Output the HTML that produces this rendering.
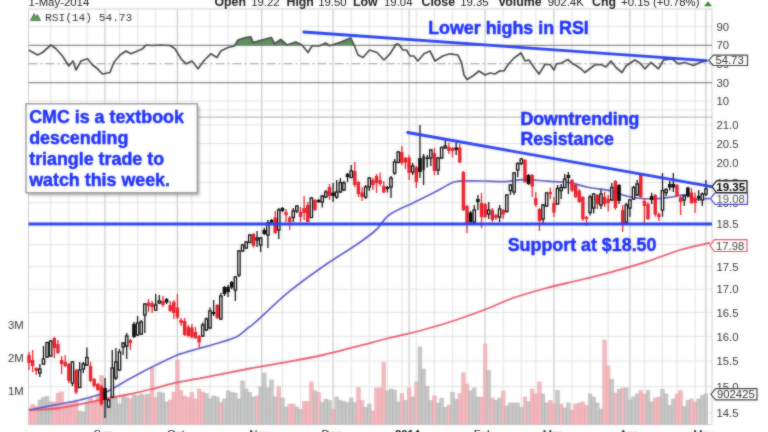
<!DOCTYPE html>
<html><head><meta charset="utf-8"><title>CMC chart</title>
<style>
html,body{margin:0;padding:0;background:#fff;overflow:hidden}
body{width:768px;height:432px;font-family:"Liberation Sans",sans-serif}
svg{display:block;filter:blur(0.7px)}
</style></head><body>
<svg width="768" height="432" viewBox="0 0 768 432">
<defs><clipPath id="cp"><rect x="28.5" y="0" width="683.5" height="424.5"/></clipPath>
<filter id="sh" x="-5%" y="-5%" width="115%" height="115%"><feGaussianBlur stdDeviation="1.2"/></filter>
<filter id="bl" color-interpolation-filters="sRGB" x="0" y="0" width="100%" height="100%" filterUnits="userSpaceOnUse"><feGaussianBlur stdDeviation="1.0"/></filter></defs>
<rect width="768" height="432" fill="#fff"/>
<g id="c">
<path d="M50.7 9.0V424.5M68.8 9.0V424.5M86.9 9.0V424.5M119.5 9.0V424.5M137.6 9.0V424.5M155.7 9.0V424.5M191.9 9.0V424.5M210.0 9.0V424.5M228.1 9.0V424.5M246.2 9.0V424.5M282.4 9.0V424.5M300.5 9.0V424.5M318.6 9.0V424.5M351.2 9.0V424.5M369.3 9.0V424.5M387.4 9.0V424.5M401.9 9.0V424.5M416.3 9.0V424.5M434.4 9.0V424.5M452.5 9.0V424.5M467.0 9.0V424.5M503.2 9.0V424.5M521.3 9.0V424.5M535.8 9.0V424.5M572.0 9.0V424.5M590.1 9.0V424.5M608.2 9.0V424.5M644.4 9.0V424.5M662.5 9.0V424.5M677.0 9.0V424.5M695.1 9.0V424.5" stroke="#e4e4e4" stroke-width="1" fill="none"/>
<path d="M105.0 9.0V424.5M177.4 9.0V424.5M261.7 9.0V424.5M333.1 9.0V424.5M409.1 9.0V424.5M485.1 9.0V424.5M553.9 9.0V424.5M629.9 9.0V424.5M705.9 9.0V424.5" stroke="#cacaca" stroke-width="1.2" fill="none"/>
<path d="M28.5 26.5H712.0M28.5 101.0H712.0M28.5 110.0H712.0M28.5 413.0H712.0M28.5 386.6H712.0M28.5 361.1H712.0M28.5 336.4H712.0M28.5 312.4H712.0M28.5 289.2H712.0M28.5 266.6H712.0M28.5 244.7H712.0M28.5 223.4H712.0M28.5 202.7H712.0M28.5 182.5H712.0M28.5 162.8H712.0M28.5 143.5H712.0M28.5 124.8H712.0" stroke="#e4e4e4" stroke-width="1" fill="none"/>
<path d="M28.5 9.0H712.0M28.5 424.5H712.0" stroke="#cfcfcf" stroke-width="1" fill="none"/>
<path d="M28.5 117.2H712.0" stroke="#bdbdbd" stroke-width="1.3" fill="none"/>
<path d="M28.5 9.0V424.5M712.0 9.0V424.5" stroke="#cfcfcf" stroke-width="1" fill="none"/>
<path d="M28.5 45.3H712.0M28.5 82.6H712.0" stroke="#8a8a8a" stroke-width="1.3" fill="none"/>
<path d="M28.5 63.8H712.0" stroke="#9a9a9a" stroke-width="1.1" stroke-dasharray="9 3 2 3" fill="none"/>
<polygon points="28.8,45.3 28.8,45.3 37.5,45.3 42.5,45.3 51.0,45.0 56.0,45.3 62.5,45.3 68.8,45.3 73.0,45.3 76.0,45.3 81.0,45.3 87.5,45.3 92.5,45.3 97.5,45.3 102.5,45.3 110.0,45.3 113.8,45.3 120.0,45.3 126.0,45.3 131.0,45.3 137.5,45.3 142.5,45.3 146.0,45.0 152.5,45.3 160.0,45.0 170.0,45.3 175.0,45.3 181.0,45.3 186.0,45.3 192.0,45.3 198.0,45.3 204.5,45.3 210.8,45.3 217.0,45.3 220.8,45.3 228.0,45.3 234.5,45.3 238.0,40.0 245.8,37.5 250.8,36.8 253.0,42.5 262.0,40.0 271.5,37.5 274.5,43.8 280.8,39.5 287.0,45.0 295.8,42.0 302.0,45.0 308.0,45.3 312.0,45.3 319.5,45.3 325.8,43.0 329.5,45.3 339.5,42.5 350.8,38.0 354.5,45.3 358.0,45.3 363.0,45.3 369.5,45.3 377.0,45.3 384.0,45.3 390.0,45.3 396.5,43.8 399.0,44.5 402.8,45.3 406.5,45.3 410.0,45.3 414.0,45.3 417.8,45.3 424.0,45.3 430.0,45.3 435.0,45.3 442.8,45.3 450.0,45.3 457.8,45.3 461.5,45.3 464.0,45.3 467.0,45.3 472.8,45.3 479.0,45.3 485.0,45.3 490.0,45.3 495.0,45.3 500.0,45.3 504.0,45.3 507.8,45.3 514.0,45.3 521.0,45.3 525.0,45.3 529.0,45.3 534.0,45.3 539.0,45.3 545.0,45.3 550.0,45.3 554.0,45.3 556.5,45.3 561.5,45.3 567.8,45.3 572.8,45.3 576.0,45.3 581.0,45.3 584.8,45.3 589.8,45.3 594.8,45.3 601.0,45.3 606.0,45.3 611.0,45.3 616.0,45.3 622.0,45.3 626.0,45.3 634.8,45.3 639.8,45.3 644.8,45.3 651.0,45.3 658.5,45.3 663.5,45.3 672.0,45.3 678.5,45.3 684.8,45.3 693.5,45.3 699.8,45.3 706.0,45.3 706.0,45.3" fill="#5f8f5f"/>
<polyline points="28.8,50.0 37.5,55.0 42.5,52.5 51.0,45.0 56.0,48.8 62.5,56.0 68.8,66.0 73.0,61.0 76.0,70.0 81.0,61.0 87.5,58.8 92.5,65.0 97.5,68.8 102.5,74.0 110.0,72.5 113.8,62.5 120.0,55.0 126.0,51.0 131.0,53.8 137.5,51.0 142.5,48.8 146.0,45.0 152.5,45.5 160.0,45.0 170.0,45.5 175.0,48.8 181.0,58.8 186.0,63.8 192.0,61.0 198.0,68.8 204.5,60.0 210.8,53.8 217.0,57.5 220.8,51.0 228.0,47.5 234.5,46.0 238.0,40.0 245.8,37.5 250.8,36.8 253.0,42.5 262.0,40.0 271.5,37.5 274.5,43.8 280.8,39.5 287.0,45.0 295.8,42.0 302.0,45.0 308.0,52.5 312.0,46.0 319.5,45.8 325.8,43.0 329.5,45.8 339.5,42.5 350.8,38.0 354.5,46.0 358.0,55.0 363.0,57.5 369.5,50.0 377.0,52.5 384.0,60.0 390.0,53.8 396.5,43.8 399.0,44.5 402.8,50.0 406.5,50.0 410.0,56.0 414.0,56.0 417.8,61.0 424.0,53.8 430.0,51.0 435.0,61.0 442.8,56.0 450.0,53.8 457.8,55.0 461.5,62.5 464.0,75.0 467.0,79.5 472.8,76.0 479.0,71.0 485.0,75.0 490.0,73.0 495.0,74.0 500.0,70.8 504.0,71.0 507.8,65.0 514.0,58.0 521.0,53.0 525.0,60.8 529.0,60.0 534.0,67.5 539.0,74.0 545.0,64.5 550.0,64.5 554.0,70.0 556.5,63.8 561.5,63.0 567.8,59.5 572.8,63.8 576.0,65.5 581.0,68.8 584.8,72.5 589.8,68.8 594.8,65.0 601.0,64.5 606.0,67.0 611.0,61.0 616.0,67.5 622.0,72.5 626.0,66.0 634.8,60.0 639.8,63.0 644.8,68.8 651.0,62.5 658.5,68.8 663.5,60.0 672.0,58.8 678.5,63.8 684.8,62.5 693.5,65.5 699.8,62.5 706.0,61.0" fill="none" stroke="#4a4a4a" stroke-width="1.7" stroke-linejoin="round"/>
<g clip-path="url(#cp)">
<rect x="27.19" y="408.0" width="3.62" height="16.5" fill="#f2b3b8" stroke="#e79aa2" stroke-width="0.5" opacity="0.9"/>
<rect x="30.81" y="404.4" width="3.62" height="20.1" fill="#f2b3b8" stroke="#e79aa2" stroke-width="0.5" opacity="0.9"/>
<rect x="34.43" y="406.7" width="3.62" height="17.8" fill="#f2b3b8" stroke="#e79aa2" stroke-width="0.5" opacity="0.9"/>
<rect x="38.05" y="400.0" width="3.62" height="24.5" fill="#c2c2c2" stroke="#a9a9a9" stroke-width="0.5" opacity="0.9"/>
<rect x="41.67" y="397.5" width="3.62" height="27.0" fill="#c2c2c2" stroke="#a9a9a9" stroke-width="0.5" opacity="0.9"/>
<rect x="45.29" y="396.4" width="3.62" height="28.1" fill="#c2c2c2" stroke="#a9a9a9" stroke-width="0.5" opacity="0.9"/>
<rect x="48.91" y="402.0" width="3.62" height="22.5" fill="#c2c2c2" stroke="#a9a9a9" stroke-width="0.5" opacity="0.9"/>
<rect x="52.53" y="402.0" width="3.62" height="22.5" fill="#f2b3b8" stroke="#e79aa2" stroke-width="0.5" opacity="0.9"/>
<rect x="56.15" y="393.0" width="3.62" height="31.5" fill="#f2b3b8" stroke="#e79aa2" stroke-width="0.5" opacity="0.9"/>
<rect x="59.77" y="391.8" width="3.62" height="32.7" fill="#f2b3b8" stroke="#e79aa2" stroke-width="0.5" opacity="0.9"/>
<rect x="63.39" y="404.0" width="3.62" height="20.5" fill="#f2b3b8" stroke="#e79aa2" stroke-width="0.5" opacity="0.9"/>
<rect x="67.01" y="404.0" width="3.62" height="20.5" fill="#f2b3b8" stroke="#e79aa2" stroke-width="0.5" opacity="0.9"/>
<rect x="70.63" y="402.0" width="3.62" height="22.5" fill="#f2b3b8" stroke="#e79aa2" stroke-width="0.5" opacity="0.9"/>
<rect x="74.25" y="400.0" width="3.62" height="24.5" fill="#f2b3b8" stroke="#e79aa2" stroke-width="0.5" opacity="0.9"/>
<rect x="77.87" y="411.0" width="3.62" height="13.5" fill="#c2c2c2" stroke="#a9a9a9" stroke-width="0.5" opacity="0.9"/>
<rect x="81.49" y="412.0" width="3.62" height="12.5" fill="#c2c2c2" stroke="#a9a9a9" stroke-width="0.5" opacity="0.9"/>
<rect x="85.11" y="402.0" width="3.62" height="22.5" fill="#c2c2c2" stroke="#a9a9a9" stroke-width="0.5" opacity="0.9"/>
<rect x="88.73" y="397.5" width="3.62" height="27.0" fill="#f2b3b8" stroke="#e79aa2" stroke-width="0.5" opacity="0.9"/>
<rect x="92.35" y="402.0" width="3.62" height="22.5" fill="#f2b3b8" stroke="#e79aa2" stroke-width="0.5" opacity="0.9"/>
<rect x="95.97" y="395.0" width="3.62" height="29.5" fill="#f2b3b8" stroke="#e79aa2" stroke-width="0.5" opacity="0.9"/>
<rect x="99.59" y="375.7" width="3.62" height="48.8" fill="#f2b3b8" stroke="#e79aa2" stroke-width="0.5" opacity="0.9"/>
<rect x="103.21" y="393.0" width="3.62" height="31.5" fill="#c2c2c2" stroke="#a9a9a9" stroke-width="0.5" opacity="0.9"/>
<rect x="106.83" y="397.5" width="3.62" height="27.0" fill="#c2c2c2" stroke="#a9a9a9" stroke-width="0.5" opacity="0.9"/>
<rect x="110.45" y="394.0" width="3.62" height="30.5" fill="#c2c2c2" stroke="#a9a9a9" stroke-width="0.5" opacity="0.9"/>
<rect x="114.07" y="397.5" width="3.62" height="27.0" fill="#c2c2c2" stroke="#a9a9a9" stroke-width="0.5" opacity="0.9"/>
<rect x="117.69" y="404.0" width="3.62" height="20.5" fill="#c2c2c2" stroke="#a9a9a9" stroke-width="0.5" opacity="0.9"/>
<rect x="121.31" y="396.0" width="3.62" height="28.5" fill="#c2c2c2" stroke="#a9a9a9" stroke-width="0.5" opacity="0.9"/>
<rect x="124.93" y="397.5" width="3.62" height="27.0" fill="#c2c2c2" stroke="#a9a9a9" stroke-width="0.5" opacity="0.9"/>
<rect x="128.55" y="398.7" width="3.62" height="25.8" fill="#f2b3b8" stroke="#e79aa2" stroke-width="0.5" opacity="0.9"/>
<rect x="132.17" y="395.0" width="3.62" height="29.5" fill="#c2c2c2" stroke="#a9a9a9" stroke-width="0.5" opacity="0.9"/>
<rect x="135.79" y="396.0" width="3.62" height="28.5" fill="#c2c2c2" stroke="#a9a9a9" stroke-width="0.5" opacity="0.9"/>
<rect x="139.41" y="394.0" width="3.62" height="30.5" fill="#c2c2c2" stroke="#a9a9a9" stroke-width="0.5" opacity="0.9"/>
<rect x="143.03" y="395.0" width="3.62" height="29.5" fill="#f2b3b8" stroke="#e79aa2" stroke-width="0.5" opacity="0.9"/>
<rect x="146.65" y="394.0" width="3.62" height="30.5" fill="#c2c2c2" stroke="#a9a9a9" stroke-width="0.5" opacity="0.9"/>
<rect x="150.27" y="368.0" width="3.62" height="56.5" fill="#f2b3b8" stroke="#e79aa2" stroke-width="0.5" opacity="0.9"/>
<rect x="153.89" y="397.5" width="3.62" height="27.0" fill="#f2b3b8" stroke="#e79aa2" stroke-width="0.5" opacity="0.9"/>
<rect x="157.51" y="392.0" width="3.62" height="32.5" fill="#c2c2c2" stroke="#a9a9a9" stroke-width="0.5" opacity="0.9"/>
<rect x="161.13" y="393.0" width="3.62" height="31.5" fill="#c2c2c2" stroke="#a9a9a9" stroke-width="0.5" opacity="0.9"/>
<rect x="164.75" y="402.0" width="3.62" height="22.5" fill="#c2c2c2" stroke="#a9a9a9" stroke-width="0.5" opacity="0.9"/>
<rect x="168.37" y="400.0" width="3.62" height="24.5" fill="#f2b3b8" stroke="#e79aa2" stroke-width="0.5" opacity="0.9"/>
<rect x="171.99" y="392.0" width="3.62" height="32.5" fill="#f2b3b8" stroke="#e79aa2" stroke-width="0.5" opacity="0.9"/>
<rect x="175.61" y="360.0" width="3.62" height="64.5" fill="#f2b3b8" stroke="#e79aa2" stroke-width="0.5" opacity="0.9"/>
<rect x="179.23" y="390.6" width="3.62" height="33.9" fill="#f2b3b8" stroke="#e79aa2" stroke-width="0.5" opacity="0.9"/>
<rect x="182.85" y="396.0" width="3.62" height="28.5" fill="#f2b3b8" stroke="#e79aa2" stroke-width="0.5" opacity="0.9"/>
<rect x="186.47" y="397.5" width="3.62" height="27.0" fill="#f2b3b8" stroke="#e79aa2" stroke-width="0.5" opacity="0.9"/>
<rect x="190.09" y="392.4" width="3.62" height="32.1" fill="#f2b3b8" stroke="#e79aa2" stroke-width="0.5" opacity="0.9"/>
<rect x="193.71" y="399.0" width="3.62" height="25.5" fill="#f2b3b8" stroke="#e79aa2" stroke-width="0.5" opacity="0.9"/>
<rect x="197.33" y="389.0" width="3.62" height="35.5" fill="#f2b3b8" stroke="#e79aa2" stroke-width="0.5" opacity="0.9"/>
<rect x="200.95" y="392.0" width="3.62" height="32.5" fill="#f2b3b8" stroke="#e79aa2" stroke-width="0.5" opacity="0.9"/>
<rect x="204.57" y="393.6" width="3.62" height="30.9" fill="#c2c2c2" stroke="#a9a9a9" stroke-width="0.5" opacity="0.9"/>
<rect x="208.19" y="399.0" width="3.62" height="25.5" fill="#c2c2c2" stroke="#a9a9a9" stroke-width="0.5" opacity="0.9"/>
<rect x="211.81" y="396.0" width="3.62" height="28.5" fill="#c2c2c2" stroke="#a9a9a9" stroke-width="0.5" opacity="0.9"/>
<rect x="215.43" y="397.0" width="3.62" height="27.5" fill="#c2c2c2" stroke="#a9a9a9" stroke-width="0.5" opacity="0.9"/>
<rect x="219.05" y="402.7" width="3.62" height="21.8" fill="#f2b3b8" stroke="#e79aa2" stroke-width="0.5" opacity="0.9"/>
<rect x="222.67" y="399.0" width="3.62" height="25.5" fill="#c2c2c2" stroke="#a9a9a9" stroke-width="0.5" opacity="0.9"/>
<rect x="226.29" y="391.0" width="3.62" height="33.5" fill="#c2c2c2" stroke="#a9a9a9" stroke-width="0.5" opacity="0.9"/>
<rect x="229.91" y="392.4" width="3.62" height="32.1" fill="#c2c2c2" stroke="#a9a9a9" stroke-width="0.5" opacity="0.9"/>
<rect x="233.53" y="393.0" width="3.62" height="31.5" fill="#c2c2c2" stroke="#a9a9a9" stroke-width="0.5" opacity="0.9"/>
<rect x="237.15" y="399.0" width="3.62" height="25.5" fill="#c2c2c2" stroke="#a9a9a9" stroke-width="0.5" opacity="0.9"/>
<rect x="240.77" y="381.0" width="3.62" height="43.5" fill="#c2c2c2" stroke="#a9a9a9" stroke-width="0.5" opacity="0.9"/>
<rect x="244.39" y="389.0" width="3.62" height="35.5" fill="#c2c2c2" stroke="#a9a9a9" stroke-width="0.5" opacity="0.9"/>
<rect x="248.01" y="392.4" width="3.62" height="32.1" fill="#c2c2c2" stroke="#a9a9a9" stroke-width="0.5" opacity="0.9"/>
<rect x="251.63" y="397.0" width="3.62" height="27.5" fill="#c2c2c2" stroke="#a9a9a9" stroke-width="0.5" opacity="0.9"/>
<rect x="255.25" y="396.0" width="3.62" height="28.5" fill="#f2b3b8" stroke="#e79aa2" stroke-width="0.5" opacity="0.9"/>
<rect x="258.87" y="386.7" width="3.62" height="37.8" fill="#c2c2c2" stroke="#a9a9a9" stroke-width="0.5" opacity="0.9"/>
<rect x="262.49" y="373.0" width="3.62" height="51.5" fill="#c2c2c2" stroke="#a9a9a9" stroke-width="0.5" opacity="0.9"/>
<rect x="266.11" y="388.0" width="3.62" height="36.5" fill="#c2c2c2" stroke="#a9a9a9" stroke-width="0.5" opacity="0.9"/>
<rect x="269.73" y="380.0" width="3.62" height="44.5" fill="#c2c2c2" stroke="#a9a9a9" stroke-width="0.5" opacity="0.9"/>
<rect x="273.35" y="397.0" width="3.62" height="27.5" fill="#c2c2c2" stroke="#a9a9a9" stroke-width="0.5" opacity="0.9"/>
<rect x="276.97" y="386.7" width="3.62" height="37.8" fill="#f2b3b8" stroke="#e79aa2" stroke-width="0.5" opacity="0.9"/>
<rect x="280.59" y="398.0" width="3.62" height="26.5" fill="#c2c2c2" stroke="#a9a9a9" stroke-width="0.5" opacity="0.9"/>
<rect x="284.21" y="407.0" width="3.62" height="17.5" fill="#c2c2c2" stroke="#a9a9a9" stroke-width="0.5" opacity="0.9"/>
<rect x="287.83" y="404.0" width="3.62" height="20.5" fill="#f2b3b8" stroke="#e79aa2" stroke-width="0.5" opacity="0.9"/>
<rect x="291.45" y="404.0" width="3.62" height="20.5" fill="#f2b3b8" stroke="#e79aa2" stroke-width="0.5" opacity="0.9"/>
<rect x="295.07" y="407.0" width="3.62" height="17.5" fill="#c2c2c2" stroke="#a9a9a9" stroke-width="0.5" opacity="0.9"/>
<rect x="298.69" y="409.6" width="3.62" height="14.9" fill="#c2c2c2" stroke="#a9a9a9" stroke-width="0.5" opacity="0.9"/>
<rect x="302.31" y="401.6" width="3.62" height="22.9" fill="#f2b3b8" stroke="#e79aa2" stroke-width="0.5" opacity="0.9"/>
<rect x="305.93" y="401.6" width="3.62" height="22.9" fill="#f2b3b8" stroke="#e79aa2" stroke-width="0.5" opacity="0.9"/>
<rect x="309.55" y="382.0" width="3.62" height="42.5" fill="#f2b3b8" stroke="#e79aa2" stroke-width="0.5" opacity="0.9"/>
<rect x="313.17" y="391.0" width="3.62" height="33.5" fill="#c2c2c2" stroke="#a9a9a9" stroke-width="0.5" opacity="0.9"/>
<rect x="316.79" y="392.4" width="3.62" height="32.1" fill="#f2b3b8" stroke="#e79aa2" stroke-width="0.5" opacity="0.9"/>
<rect x="320.41" y="402.7" width="3.62" height="21.8" fill="#c2c2c2" stroke="#a9a9a9" stroke-width="0.5" opacity="0.9"/>
<rect x="324.03" y="399.0" width="3.62" height="25.5" fill="#c2c2c2" stroke="#a9a9a9" stroke-width="0.5" opacity="0.9"/>
<rect x="327.65" y="400.5" width="3.62" height="24.0" fill="#c2c2c2" stroke="#a9a9a9" stroke-width="0.5" opacity="0.9"/>
<rect x="331.27" y="409.6" width="3.62" height="14.9" fill="#f2b3b8" stroke="#e79aa2" stroke-width="0.5" opacity="0.9"/>
<rect x="334.89" y="397.0" width="3.62" height="27.5" fill="#c2c2c2" stroke="#a9a9a9" stroke-width="0.5" opacity="0.9"/>
<rect x="338.51" y="400.5" width="3.62" height="24.0" fill="#c2c2c2" stroke="#a9a9a9" stroke-width="0.5" opacity="0.9"/>
<rect x="342.13" y="401.6" width="3.62" height="22.9" fill="#c2c2c2" stroke="#a9a9a9" stroke-width="0.5" opacity="0.9"/>
<rect x="345.75" y="402.7" width="3.62" height="21.8" fill="#c2c2c2" stroke="#a9a9a9" stroke-width="0.5" opacity="0.9"/>
<rect x="349.37" y="398.0" width="3.62" height="26.5" fill="#c2c2c2" stroke="#a9a9a9" stroke-width="0.5" opacity="0.9"/>
<rect x="352.99" y="402.7" width="3.62" height="21.8" fill="#c2c2c2" stroke="#a9a9a9" stroke-width="0.5" opacity="0.9"/>
<rect x="356.61" y="387.8" width="3.62" height="36.7" fill="#f2b3b8" stroke="#e79aa2" stroke-width="0.5" opacity="0.9"/>
<rect x="360.23" y="400.6" width="3.62" height="23.9" fill="#f2b3b8" stroke="#e79aa2" stroke-width="0.5" opacity="0.9"/>
<rect x="363.85" y="407.5" width="3.62" height="17.0" fill="#c2c2c2" stroke="#a9a9a9" stroke-width="0.5" opacity="0.9"/>
<rect x="367.47" y="404.0" width="3.62" height="20.5" fill="#c2c2c2" stroke="#a9a9a9" stroke-width="0.5" opacity="0.9"/>
<rect x="371.09" y="411.0" width="3.62" height="13.5" fill="#f2b3b8" stroke="#e79aa2" stroke-width="0.5" opacity="0.9"/>
<rect x="374.71" y="388.0" width="3.62" height="36.5" fill="#f2b3b8" stroke="#e79aa2" stroke-width="0.5" opacity="0.9"/>
<rect x="378.33" y="388.0" width="3.62" height="36.5" fill="#f2b3b8" stroke="#e79aa2" stroke-width="0.5" opacity="0.9"/>
<rect x="381.95" y="362.4" width="3.62" height="62.1" fill="#f2b3b8" stroke="#e79aa2" stroke-width="0.5" opacity="0.9"/>
<rect x="385.57" y="391.0" width="3.62" height="33.5" fill="#c2c2c2" stroke="#a9a9a9" stroke-width="0.5" opacity="0.9"/>
<rect x="389.19" y="389.0" width="3.62" height="35.5" fill="#c2c2c2" stroke="#a9a9a9" stroke-width="0.5" opacity="0.9"/>
<rect x="392.81" y="390.0" width="3.62" height="34.5" fill="#c2c2c2" stroke="#a9a9a9" stroke-width="0.5" opacity="0.9"/>
<rect x="396.43" y="402.0" width="3.62" height="22.5" fill="#c2c2c2" stroke="#a9a9a9" stroke-width="0.5" opacity="0.9"/>
<rect x="400.05" y="393.6" width="3.62" height="30.9" fill="#f2b3b8" stroke="#e79aa2" stroke-width="0.5" opacity="0.9"/>
<rect x="403.67" y="400.6" width="3.62" height="23.9" fill="#c2c2c2" stroke="#a9a9a9" stroke-width="0.5" opacity="0.9"/>
<rect x="407.29" y="388.0" width="3.62" height="36.5" fill="#f2b3b8" stroke="#e79aa2" stroke-width="0.5" opacity="0.9"/>
<rect x="410.91" y="397.0" width="3.62" height="27.5" fill="#c2c2c2" stroke="#a9a9a9" stroke-width="0.5" opacity="0.9"/>
<rect x="414.53" y="382.0" width="3.62" height="42.5" fill="#f2b3b8" stroke="#e79aa2" stroke-width="0.5" opacity="0.9"/>
<rect x="418.15" y="347.0" width="3.62" height="77.5" fill="#c2c2c2" stroke="#a9a9a9" stroke-width="0.5" opacity="0.9"/>
<rect x="421.77" y="369.0" width="3.62" height="55.5" fill="#c2c2c2" stroke="#a9a9a9" stroke-width="0.5" opacity="0.9"/>
<rect x="425.39" y="386.7" width="3.62" height="37.8" fill="#c2c2c2" stroke="#a9a9a9" stroke-width="0.5" opacity="0.9"/>
<rect x="429.01" y="400.6" width="3.62" height="23.9" fill="#c2c2c2" stroke="#a9a9a9" stroke-width="0.5" opacity="0.9"/>
<rect x="432.63" y="396.0" width="3.62" height="28.5" fill="#f2b3b8" stroke="#e79aa2" stroke-width="0.5" opacity="0.9"/>
<rect x="436.25" y="403.0" width="3.62" height="21.5" fill="#c2c2c2" stroke="#a9a9a9" stroke-width="0.5" opacity="0.9"/>
<rect x="439.87" y="398.0" width="3.62" height="26.5" fill="#c2c2c2" stroke="#a9a9a9" stroke-width="0.5" opacity="0.9"/>
<rect x="443.49" y="407.5" width="3.62" height="17.0" fill="#c2c2c2" stroke="#a9a9a9" stroke-width="0.5" opacity="0.9"/>
<rect x="447.11" y="405.0" width="3.62" height="19.5" fill="#f2b3b8" stroke="#e79aa2" stroke-width="0.5" opacity="0.9"/>
<rect x="450.73" y="392.5" width="3.62" height="32.0" fill="#c2c2c2" stroke="#a9a9a9" stroke-width="0.5" opacity="0.9"/>
<rect x="454.35" y="399.4" width="3.62" height="25.1" fill="#c2c2c2" stroke="#a9a9a9" stroke-width="0.5" opacity="0.9"/>
<rect x="457.97" y="393.6" width="3.62" height="30.9" fill="#f2b3b8" stroke="#e79aa2" stroke-width="0.5" opacity="0.9"/>
<rect x="461.59" y="372.8" width="3.62" height="51.7" fill="#f2b3b8" stroke="#e79aa2" stroke-width="0.5" opacity="0.9"/>
<rect x="465.21" y="384.0" width="3.62" height="40.5" fill="#f2b3b8" stroke="#e79aa2" stroke-width="0.5" opacity="0.9"/>
<rect x="468.83" y="391.0" width="3.62" height="33.5" fill="#c2c2c2" stroke="#a9a9a9" stroke-width="0.5" opacity="0.9"/>
<rect x="472.45" y="388.0" width="3.62" height="36.5" fill="#c2c2c2" stroke="#a9a9a9" stroke-width="0.5" opacity="0.9"/>
<rect x="476.07" y="397.0" width="3.62" height="27.5" fill="#c2c2c2" stroke="#a9a9a9" stroke-width="0.5" opacity="0.9"/>
<rect x="479.69" y="397.0" width="3.62" height="27.5" fill="#f2b3b8" stroke="#e79aa2" stroke-width="0.5" opacity="0.9"/>
<rect x="483.31" y="344.0" width="3.62" height="80.5" fill="#f2b3b8" stroke="#e79aa2" stroke-width="0.5" opacity="0.9"/>
<rect x="486.93" y="370.5" width="3.62" height="54.0" fill="#c2c2c2" stroke="#a9a9a9" stroke-width="0.5" opacity="0.9"/>
<rect x="490.55" y="398.0" width="3.62" height="26.5" fill="#f2b3b8" stroke="#e79aa2" stroke-width="0.5" opacity="0.9"/>
<rect x="494.17" y="400.6" width="3.62" height="23.9" fill="#c2c2c2" stroke="#a9a9a9" stroke-width="0.5" opacity="0.9"/>
<rect x="497.79" y="398.0" width="3.62" height="26.5" fill="#c2c2c2" stroke="#a9a9a9" stroke-width="0.5" opacity="0.9"/>
<rect x="501.41" y="391.0" width="3.62" height="33.5" fill="#f2b3b8" stroke="#e79aa2" stroke-width="0.5" opacity="0.9"/>
<rect x="505.03" y="406.0" width="3.62" height="18.5" fill="#c2c2c2" stroke="#a9a9a9" stroke-width="0.5" opacity="0.9"/>
<rect x="508.65" y="403.0" width="3.62" height="21.5" fill="#c2c2c2" stroke="#a9a9a9" stroke-width="0.5" opacity="0.9"/>
<rect x="512.27" y="403.0" width="3.62" height="21.5" fill="#c2c2c2" stroke="#a9a9a9" stroke-width="0.5" opacity="0.9"/>
<rect x="515.89" y="403.0" width="3.62" height="21.5" fill="#c2c2c2" stroke="#a9a9a9" stroke-width="0.5" opacity="0.9"/>
<rect x="519.51" y="407.5" width="3.62" height="17.0" fill="#c2c2c2" stroke="#a9a9a9" stroke-width="0.5" opacity="0.9"/>
<rect x="523.13" y="397.0" width="3.62" height="27.5" fill="#f2b3b8" stroke="#e79aa2" stroke-width="0.5" opacity="0.9"/>
<rect x="526.75" y="401.7" width="3.62" height="22.8" fill="#c2c2c2" stroke="#a9a9a9" stroke-width="0.5" opacity="0.9"/>
<rect x="530.37" y="389.0" width="3.62" height="35.5" fill="#f2b3b8" stroke="#e79aa2" stroke-width="0.5" opacity="0.9"/>
<rect x="533.99" y="394.0" width="3.62" height="30.5" fill="#f2b3b8" stroke="#e79aa2" stroke-width="0.5" opacity="0.9"/>
<rect x="537.61" y="382.0" width="3.62" height="42.5" fill="#f2b3b8" stroke="#e79aa2" stroke-width="0.5" opacity="0.9"/>
<rect x="541.23" y="394.0" width="3.62" height="30.5" fill="#c2c2c2" stroke="#a9a9a9" stroke-width="0.5" opacity="0.9"/>
<rect x="544.85" y="403.0" width="3.62" height="21.5" fill="#c2c2c2" stroke="#a9a9a9" stroke-width="0.5" opacity="0.9"/>
<rect x="548.47" y="400.5" width="3.62" height="24.0" fill="#f2b3b8" stroke="#e79aa2" stroke-width="0.5" opacity="0.9"/>
<rect x="552.09" y="404.0" width="3.62" height="20.5" fill="#f2b3b8" stroke="#e79aa2" stroke-width="0.5" opacity="0.9"/>
<rect x="555.71" y="390.6" width="3.62" height="33.9" fill="#c2c2c2" stroke="#a9a9a9" stroke-width="0.5" opacity="0.9"/>
<rect x="559.33" y="404.0" width="3.62" height="20.5" fill="#f2b3b8" stroke="#e79aa2" stroke-width="0.5" opacity="0.9"/>
<rect x="562.95" y="408.0" width="3.62" height="16.5" fill="#c2c2c2" stroke="#a9a9a9" stroke-width="0.5" opacity="0.9"/>
<rect x="566.57" y="403.0" width="3.62" height="21.5" fill="#c2c2c2" stroke="#a9a9a9" stroke-width="0.5" opacity="0.9"/>
<rect x="570.19" y="410.0" width="3.62" height="14.5" fill="#f2b3b8" stroke="#e79aa2" stroke-width="0.5" opacity="0.9"/>
<rect x="573.81" y="404.0" width="3.62" height="20.5" fill="#f2b3b8" stroke="#e79aa2" stroke-width="0.5" opacity="0.9"/>
<rect x="577.43" y="403.0" width="3.62" height="21.5" fill="#f2b3b8" stroke="#e79aa2" stroke-width="0.5" opacity="0.9"/>
<rect x="581.05" y="402.0" width="3.62" height="22.5" fill="#f2b3b8" stroke="#e79aa2" stroke-width="0.5" opacity="0.9"/>
<rect x="584.67" y="405.5" width="3.62" height="19.0" fill="#f2b3b8" stroke="#e79aa2" stroke-width="0.5" opacity="0.9"/>
<rect x="588.29" y="394.0" width="3.62" height="30.5" fill="#c2c2c2" stroke="#a9a9a9" stroke-width="0.5" opacity="0.9"/>
<rect x="591.91" y="397.0" width="3.62" height="27.5" fill="#c2c2c2" stroke="#a9a9a9" stroke-width="0.5" opacity="0.9"/>
<rect x="595.53" y="403.0" width="3.62" height="21.5" fill="#c2c2c2" stroke="#a9a9a9" stroke-width="0.5" opacity="0.9"/>
<rect x="599.15" y="409.0" width="3.62" height="15.5" fill="#c2c2c2" stroke="#a9a9a9" stroke-width="0.5" opacity="0.9"/>
<rect x="602.77" y="340.0" width="3.62" height="84.5" fill="#f2b3b8" stroke="#e79aa2" stroke-width="0.5" opacity="0.9"/>
<rect x="606.39" y="366.0" width="3.62" height="58.5" fill="#f2b3b8" stroke="#e79aa2" stroke-width="0.5" opacity="0.9"/>
<rect x="610.01" y="379.5" width="3.62" height="45.0" fill="#c2c2c2" stroke="#a9a9a9" stroke-width="0.5" opacity="0.9"/>
<rect x="613.63" y="393.0" width="3.62" height="31.5" fill="#f2b3b8" stroke="#e79aa2" stroke-width="0.5" opacity="0.9"/>
<rect x="617.25" y="389.4" width="3.62" height="35.1" fill="#c2c2c2" stroke="#a9a9a9" stroke-width="0.5" opacity="0.9"/>
<rect x="620.87" y="388.0" width="3.62" height="36.5" fill="#f2b3b8" stroke="#e79aa2" stroke-width="0.5" opacity="0.9"/>
<rect x="624.49" y="388.0" width="3.62" height="36.5" fill="#c2c2c2" stroke="#a9a9a9" stroke-width="0.5" opacity="0.9"/>
<rect x="628.11" y="400.5" width="3.62" height="24.0" fill="#c2c2c2" stroke="#a9a9a9" stroke-width="0.5" opacity="0.9"/>
<rect x="631.73" y="397.0" width="3.62" height="27.5" fill="#c2c2c2" stroke="#a9a9a9" stroke-width="0.5" opacity="0.9"/>
<rect x="635.35" y="394.0" width="3.62" height="30.5" fill="#c2c2c2" stroke="#a9a9a9" stroke-width="0.5" opacity="0.9"/>
<rect x="638.97" y="390.6" width="3.62" height="33.9" fill="#f2b3b8" stroke="#e79aa2" stroke-width="0.5" opacity="0.9"/>
<rect x="642.59" y="394.0" width="3.62" height="30.5" fill="#f2b3b8" stroke="#e79aa2" stroke-width="0.5" opacity="0.9"/>
<rect x="646.21" y="390.6" width="3.62" height="33.9" fill="#c2c2c2" stroke="#a9a9a9" stroke-width="0.5" opacity="0.9"/>
<rect x="649.83" y="401.8" width="3.62" height="22.7" fill="#c2c2c2" stroke="#a9a9a9" stroke-width="0.5" opacity="0.9"/>
<rect x="653.45" y="398.0" width="3.62" height="26.5" fill="#f2b3b8" stroke="#e79aa2" stroke-width="0.5" opacity="0.9"/>
<rect x="657.07" y="397.0" width="3.62" height="27.5" fill="#f2b3b8" stroke="#e79aa2" stroke-width="0.5" opacity="0.9"/>
<rect x="660.69" y="389.4" width="3.62" height="35.1" fill="#c2c2c2" stroke="#a9a9a9" stroke-width="0.5" opacity="0.9"/>
<rect x="664.31" y="394.0" width="3.62" height="30.5" fill="#c2c2c2" stroke="#a9a9a9" stroke-width="0.5" opacity="0.9"/>
<rect x="667.93" y="405.5" width="3.62" height="19.0" fill="#c2c2c2" stroke="#a9a9a9" stroke-width="0.5" opacity="0.9"/>
<rect x="671.55" y="399.0" width="3.62" height="25.5" fill="#c2c2c2" stroke="#a9a9a9" stroke-width="0.5" opacity="0.9"/>
<rect x="675.17" y="394.0" width="3.62" height="30.5" fill="#f2b3b8" stroke="#e79aa2" stroke-width="0.5" opacity="0.9"/>
<rect x="678.79" y="390.6" width="3.62" height="33.9" fill="#f2b3b8" stroke="#e79aa2" stroke-width="0.5" opacity="0.9"/>
<rect x="682.41" y="406.7" width="3.62" height="17.8" fill="#c2c2c2" stroke="#a9a9a9" stroke-width="0.5" opacity="0.9"/>
<rect x="686.03" y="400.5" width="3.62" height="24.0" fill="#c2c2c2" stroke="#a9a9a9" stroke-width="0.5" opacity="0.9"/>
<rect x="689.65" y="399.0" width="3.62" height="25.5" fill="#f2b3b8" stroke="#e79aa2" stroke-width="0.5" opacity="0.9"/>
<rect x="693.27" y="402.0" width="3.62" height="22.5" fill="#f2b3b8" stroke="#e79aa2" stroke-width="0.5" opacity="0.9"/>
<rect x="696.89" y="399.0" width="3.62" height="25.5" fill="#c2c2c2" stroke="#a9a9a9" stroke-width="0.5" opacity="0.9"/>
<rect x="700.51" y="395.6" width="3.62" height="28.9" fill="#c2c2c2" stroke="#a9a9a9" stroke-width="0.5" opacity="0.9"/>
<rect x="704.13" y="394.0" width="3.62" height="30.5" fill="#c2c2c2" stroke="#a9a9a9" stroke-width="0.5" opacity="0.9"/>
</g>
<path d="M29.0 410.0C34.2 409.7 47.3 409.8 60.0 408.0C72.7 406.2 93.3 401.3 105.0 399.0C116.7 396.7 122.5 395.6 130.0 394.0C137.5 392.4 142.5 391.4 150.0 389.5C157.5 387.6 166.7 384.7 175.0 382.8C183.3 380.9 187.5 380.7 200.0 378.3C212.5 375.9 235.2 371.3 250.0 368.5C264.8 365.7 276.9 363.9 289.0 361.7C301.1 359.4 311.5 357.5 322.7 355.0C333.9 352.5 344.9 349.5 356.0 346.7C367.1 343.9 377.9 340.8 389.0 338.0C400.1 335.2 411.5 333.0 422.7 330.0C433.9 327.0 444.9 323.7 456.0 320.0C467.1 316.3 479.5 311.7 489.0 308.0C498.5 304.3 503.4 301.3 513.0 298.0C522.6 294.7 535.5 291.0 546.7 288.0C557.9 285.0 569.0 282.7 580.0 280.0C591.0 277.3 601.9 274.8 613.0 271.7C624.1 268.6 635.5 265.3 646.7 261.7C657.9 258.1 670.0 253.0 680.0 250.0C690.0 247.0 701.7 244.7 706.7 243.5C711.7 242.3 709.5 243.1 710.0 243.0" fill="none" stroke="#ea5a6c" stroke-width="1.8"/>
<path d="M29.0 410.0C34.2 409.0 51.5 405.7 60.0 404.0C68.5 402.3 72.5 401.9 80.0 400.0C87.5 398.1 97.5 395.6 105.0 392.5C112.5 389.4 117.5 385.6 125.0 381.5C132.5 377.4 141.7 372.2 150.0 368.0C158.3 363.8 169.2 358.6 175.0 356.0C180.8 353.4 181.0 353.8 185.0 352.5C189.0 351.2 193.2 350.2 199.0 348.5C204.8 346.8 213.7 344.5 220.0 342.5C226.3 340.5 232.0 339.1 236.7 336.7C241.4 334.3 244.8 330.5 248.0 328.0C251.2 325.5 249.2 327.8 256.0 321.7C262.8 315.6 277.9 300.9 289.0 291.7C300.1 282.5 311.5 274.5 322.7 266.7C333.9 258.9 347.1 251.1 356.0 245.0C364.9 238.9 370.5 235.0 376.0 230.0C381.5 225.0 382.7 219.6 389.0 215.0C395.3 210.4 406.5 206.2 414.0 202.5C421.5 198.8 427.6 195.8 434.0 192.5C440.4 189.2 448.0 184.4 452.7 182.5C457.4 180.6 457.2 181.2 462.4 181.0C467.6 180.8 477.1 180.9 484.0 181.0C490.9 181.1 497.9 181.9 504.0 181.7C510.1 181.5 515.8 180.1 520.8 179.8C525.8 179.5 528.1 179.7 534.0 180.0C539.9 180.3 550.3 181.3 556.0 181.7C561.7 182.1 564.5 181.9 568.0 182.3C571.5 182.8 573.5 183.5 577.0 184.4C580.5 185.3 583.5 186.5 589.0 187.5C594.5 188.5 602.8 189.0 609.7 190.6C616.6 192.2 623.6 195.6 630.5 197.0C637.4 198.4 644.1 199.0 651.0 199.0C657.9 199.0 666.4 197.7 672.0 197.0C677.6 196.3 680.7 194.5 684.7 194.8C688.7 195.1 691.8 198.4 696.0 199.0C700.2 199.6 707.7 198.6 710.0 198.5" fill="none" stroke="#5c5cca" stroke-width="1.7"/>
<path d="M29.00 352.0V370.0" stroke="#e8242e" stroke-width="1.3"/>
<rect x="27.30" y="355.0" width="3.4" height="8.0" fill="#ea1f2b"/>
<path d="M32.62 350.0V372.0" stroke="#e8242e" stroke-width="1.3"/>
<rect x="30.92" y="360.0" width="3.4" height="6.0" fill="#ea1f2b"/>
<path d="M36.24 367.0V375.0" stroke="#e8242e" stroke-width="1.3"/>
<rect x="34.54" y="368.0" width="3.4" height="3.0" fill="#ea1f2b"/>
<path d="M39.86 364.0V369.0M39.86 373.0V377.0" stroke="#111" stroke-width="1.3"/>
<rect x="38.66" y="369.0" width="2.4" height="4.0" fill="#fff" stroke="#111" stroke-width="1.3"/>
<path d="M43.48 346.0V359.0M43.48 364.0V365.0" stroke="#111" stroke-width="1.3"/>
<rect x="42.28" y="359.0" width="2.4" height="5.0" fill="#fff" stroke="#111" stroke-width="1.3"/>
<path d="M47.10 342.0V342.5M47.10 357.0V358.0" stroke="#111" stroke-width="1.3"/>
<rect x="45.90" y="342.5" width="2.4" height="14.5" fill="#fff" stroke="#111" stroke-width="1.3"/>
<path d="M50.72 340.0V341.0M50.72 356.0V357.0" stroke="#111" stroke-width="1.3"/>
<rect x="49.52" y="341.0" width="2.4" height="15.0" fill="#fff" stroke="#111" stroke-width="1.3"/>
<path d="M54.34 337.0V358.0" stroke="#e8242e" stroke-width="1.3"/>
<rect x="52.64" y="338.0" width="3.4" height="10.0" fill="#ea1f2b"/>
<path d="M57.96 340.0V354.0" stroke="#e8242e" stroke-width="1.3"/>
<rect x="56.26" y="344.0" width="3.4" height="9.0" fill="#ea1f2b"/>
<path d="M61.58 356.0V374.0" stroke="#e8242e" stroke-width="1.3"/>
<rect x="59.88" y="360.0" width="3.4" height="4.0" fill="#ea1f2b"/>
<path d="M65.20 355.0V367.0" stroke="#e8242e" stroke-width="1.3"/>
<rect x="63.50" y="362.0" width="3.4" height="4.0" fill="#ea1f2b"/>
<path d="M68.82 363.0V383.0" stroke="#e8242e" stroke-width="1.3"/>
<rect x="67.12" y="364.0" width="3.4" height="17.0" fill="#ea1f2b"/>
<path d="M72.44 361.0V362.0M72.44 383.0V386.0" stroke="#111" stroke-width="1.3"/>
<rect x="71.24" y="362.0" width="2.4" height="21.0" fill="#fff" stroke="#111" stroke-width="1.3"/>
<path d="M76.06 369.0V394.0" stroke="#e8242e" stroke-width="1.3"/>
<rect x="74.36" y="370.0" width="3.4" height="22.5" fill="#ea1f2b"/>
<path d="M79.68 362.0V370.0M79.68 387.5V388.0" stroke="#111" stroke-width="1.3"/>
<rect x="78.48" y="370.0" width="2.4" height="17.5" fill="#fff" stroke="#111" stroke-width="1.3"/>
<path d="M83.30 362.0V364.0M83.30 369.0V373.0" stroke="#111" stroke-width="1.3"/>
<rect x="82.10" y="364.0" width="2.4" height="5.0" fill="#fff" stroke="#111" stroke-width="1.3"/>
<path d="M86.92 347.5V357.5M86.92 365.0V366.0" stroke="#111" stroke-width="1.3"/>
<rect x="85.72" y="357.5" width="2.4" height="7.5" fill="#fff" stroke="#111" stroke-width="1.3"/>
<path d="M90.54 362.0V382.0" stroke="#e8242e" stroke-width="1.3"/>
<rect x="88.84" y="366.0" width="3.4" height="15.0" fill="#ea1f2b"/>
<path d="M94.16 378.0V387.5" stroke="#e8242e" stroke-width="1.3"/>
<rect x="92.46" y="379.0" width="3.4" height="7.0" fill="#ea1f2b"/>
<path d="M97.78 383.0V391.0" stroke="#e8242e" stroke-width="1.3"/>
<rect x="96.08" y="384.0" width="3.4" height="6.0" fill="#ea1f2b"/>
<path d="M101.40 385.0V406.0" stroke="#e8242e" stroke-width="1.3"/>
<rect x="99.70" y="386.0" width="3.4" height="18.0" fill="#ea1f2b"/>
<path d="M105.02 378.0V418.0" stroke="#111" stroke-width="1.3"/>
<rect x="103.22" y="388.0" width="3.6" height="12.0" fill="#0a0a0a"/>
<path d="M108.64 399.0V400.0M108.64 407.0V408.0" stroke="#111" stroke-width="1.3"/>
<rect x="107.44" y="400.0" width="2.4" height="7.0" fill="#fff" stroke="#111" stroke-width="1.3"/>
<path d="M112.26 350.0V368.0M112.26 397.0V398.0" stroke="#111" stroke-width="1.3"/>
<rect x="111.06" y="368.0" width="2.4" height="29.0" fill="#fff" stroke="#111" stroke-width="1.3"/>
<path d="M115.88 348.0V362.0M115.88 378.0V380.0" stroke="#111" stroke-width="1.3"/>
<rect x="114.68" y="362.0" width="2.4" height="16.0" fill="#fff" stroke="#111" stroke-width="1.3"/>
<path d="M119.50 349.0V352.0M119.50 370.0V371.0" stroke="#111" stroke-width="1.3"/>
<rect x="118.30" y="352.0" width="2.4" height="18.0" fill="#fff" stroke="#111" stroke-width="1.3"/>
<path d="M123.12 342.0V343.0M123.12 347.0V355.0" stroke="#111" stroke-width="1.3"/>
<rect x="121.92" y="343.0" width="2.4" height="4.0" fill="#fff" stroke="#111" stroke-width="1.3"/>
<path d="M126.74 333.0V336.0M126.74 346.0V359.0" stroke="#111" stroke-width="1.3"/>
<rect x="125.54" y="336.0" width="2.4" height="10.0" fill="#fff" stroke="#111" stroke-width="1.3"/>
<path d="M130.36 339.0V350.0" stroke="#e8242e" stroke-width="1.3"/>
<rect x="128.66" y="340.0" width="3.4" height="3.0" fill="#ea1f2b"/>
<path d="M133.98 322.0V338.0" stroke="#111" stroke-width="1.3"/>
<rect x="132.18" y="324.0" width="3.6" height="13.0" fill="#0a0a0a"/>
<path d="M137.60 316.0V323.0M137.60 335.0V336.0" stroke="#111" stroke-width="1.3"/>
<rect x="136.40" y="323.0" width="2.4" height="12.0" fill="#fff" stroke="#111" stroke-width="1.3"/>
<path d="M141.22 320.0V322.0M141.22 334.0V335.0" stroke="#111" stroke-width="1.3"/>
<rect x="140.02" y="322.0" width="2.4" height="12.0" fill="#fff" stroke="#111" stroke-width="1.3"/>
<path d="M144.84 303.0V304.0M144.84 315.0V333.0" stroke="#111" stroke-width="1.3"/>
<rect x="143.64" y="304.0" width="2.4" height="11.0" fill="#fff" stroke="#111" stroke-width="1.3"/>
<path d="M148.46 299.0V312.0" stroke="#e8242e" stroke-width="1.3"/>
<rect x="146.76" y="302.5" width="3.4" height="3.5" fill="#ea1f2b"/>
<path d="M152.08 301.0V313.0" stroke="#e8242e" stroke-width="1.3"/>
<rect x="150.38" y="303.0" width="3.4" height="4.0" fill="#ea1f2b"/>
<path d="M155.70 294.0V305.0M155.70 310.0V311.0" stroke="#111" stroke-width="1.3"/>
<rect x="154.50" y="305.0" width="2.4" height="5.0" fill="#fff" stroke="#111" stroke-width="1.3"/>
<path d="M159.32 295.0V301.0M159.32 303.0V304.0" stroke="#111" stroke-width="1.3"/>
<rect x="158.12" y="301.0" width="2.4" height="2.0" fill="#fff" stroke="#111" stroke-width="1.3"/>
<path d="M162.94 296.0V307.0" stroke="#e8242e" stroke-width="1.3"/>
<rect x="161.24" y="301.0" width="3.4" height="4.0" fill="#ea1f2b"/>
<path d="M166.56 298.0V304.0" stroke="#111" stroke-width="1.3"/>
<rect x="164.76" y="299.0" width="3.6" height="3.5" fill="#0a0a0a"/>
<path d="M170.18 301.0V312.0" stroke="#e8242e" stroke-width="1.3"/>
<rect x="168.48" y="305.0" width="3.4" height="6.0" fill="#ea1f2b"/>
<path d="M173.80 300.0V319.0" stroke="#e8242e" stroke-width="1.3"/>
<rect x="172.10" y="302.0" width="3.4" height="11.0" fill="#ea1f2b"/>
<path d="M177.42 294.0V319.0" stroke="#e8242e" stroke-width="1.3"/>
<rect x="175.72" y="307.5" width="3.4" height="10.0" fill="#ea1f2b"/>
<path d="M181.04 318.0V326.0" stroke="#e8242e" stroke-width="1.3"/>
<rect x="179.34" y="320.0" width="3.4" height="3.0" fill="#ea1f2b"/>
<path d="M184.66 318.0V336.0" stroke="#e8242e" stroke-width="1.3"/>
<rect x="182.96" y="321.0" width="3.4" height="14.0" fill="#ea1f2b"/>
<path d="M188.28 325.0V337.0" stroke="#e8242e" stroke-width="1.3"/>
<rect x="186.58" y="327.0" width="3.4" height="9.0" fill="#ea1f2b"/>
<path d="M191.90 324.0V338.0" stroke="#e8242e" stroke-width="1.3"/>
<rect x="190.20" y="327.5" width="3.4" height="10.0" fill="#ea1f2b"/>
<path d="M195.52 327.0V339.0" stroke="#e8242e" stroke-width="1.3"/>
<rect x="193.82" y="332.0" width="3.4" height="6.0" fill="#ea1f2b"/>
<path d="M199.14 335.0V348.0" stroke="#e8242e" stroke-width="1.3"/>
<rect x="197.44" y="336.0" width="3.4" height="6.5" fill="#ea1f2b"/>
<path d="M202.76 322.5V325.0M202.76 336.0V337.0" stroke="#111" stroke-width="1.3"/>
<rect x="201.56" y="325.0" width="2.4" height="11.0" fill="#fff" stroke="#111" stroke-width="1.3"/>
<path d="M206.38 317.5V319.0M206.38 330.0V331.0" stroke="#111" stroke-width="1.3"/>
<rect x="205.18" y="319.0" width="2.4" height="11.0" fill="#fff" stroke="#111" stroke-width="1.3"/>
<path d="M210.00 307.5V311.0M210.00 328.0V329.0" stroke="#111" stroke-width="1.3"/>
<rect x="208.80" y="311.0" width="2.4" height="17.0" fill="#fff" stroke="#111" stroke-width="1.3"/>
<path d="M213.62 300.0V316.0" stroke="#111" stroke-width="1.3"/>
<rect x="211.82" y="312.0" width="3.6" height="2.0" fill="#0a0a0a"/>
<path d="M217.24 304.0V319.0" stroke="#e8242e" stroke-width="1.3"/>
<rect x="215.54" y="305.0" width="3.4" height="13.0" fill="#ea1f2b"/>
<path d="M220.86 293.0V296.0M220.86 319.0V320.0" stroke="#111" stroke-width="1.3"/>
<rect x="219.66" y="296.0" width="2.4" height="23.0" fill="#fff" stroke="#111" stroke-width="1.3"/>
<path d="M224.48 286.0V296.0" stroke="#111" stroke-width="1.3"/>
<rect x="222.68" y="287.0" width="3.6" height="7.0" fill="#0a0a0a"/>
<path d="M228.10 285.0V297.0" stroke="#111" stroke-width="1.3"/>
<rect x="226.30" y="287.0" width="3.6" height="5.0" fill="#0a0a0a"/>
<path d="M231.72 281.0V289.0" stroke="#111" stroke-width="1.3"/>
<rect x="229.92" y="282.0" width="3.6" height="5.5" fill="#0a0a0a"/>
<path d="M235.34 276.0V277.0M235.34 290.0V301.0" stroke="#111" stroke-width="1.3"/>
<rect x="234.14" y="277.0" width="2.4" height="13.0" fill="#fff" stroke="#111" stroke-width="1.3"/>
<path d="M238.96 250.0V251.0M238.96 275.0V277.0" stroke="#111" stroke-width="1.3"/>
<rect x="237.76" y="251.0" width="2.4" height="24.0" fill="#fff" stroke="#111" stroke-width="1.3"/>
<path d="M242.58 244.0V245.0M242.58 251.0V252.0" stroke="#111" stroke-width="1.3"/>
<rect x="241.38" y="245.0" width="2.4" height="6.0" fill="#fff" stroke="#111" stroke-width="1.3"/>
<path d="M246.20 241.0V242.0M246.20 248.0V249.0" stroke="#111" stroke-width="1.3"/>
<rect x="245.00" y="242.0" width="2.4" height="6.0" fill="#fff" stroke="#111" stroke-width="1.3"/>
<path d="M249.82 234.0V235.0M249.82 242.5V243.0" stroke="#111" stroke-width="1.3"/>
<rect x="248.62" y="235.0" width="2.4" height="7.5" fill="#fff" stroke="#111" stroke-width="1.3"/>
<path d="M253.44 233.0V247.5" stroke="#e8242e" stroke-width="1.3"/>
<rect x="251.74" y="234.0" width="3.4" height="12.0" fill="#ea1f2b"/>
<path d="M257.06 231.0V238.0M257.06 240.0V247.0" stroke="#111" stroke-width="1.3"/>
<rect x="255.86" y="238.0" width="2.4" height="2.0" fill="#fff" stroke="#111" stroke-width="1.3"/>
<path d="M260.68 237.0V238.0M260.68 245.0V252.0" stroke="#111" stroke-width="1.3"/>
<rect x="259.48" y="238.0" width="2.4" height="7.0" fill="#fff" stroke="#111" stroke-width="1.3"/>
<path d="M264.30 228.0V235.0" stroke="#111" stroke-width="1.3"/>
<rect x="262.50" y="230.0" width="3.6" height="4.0" fill="#0a0a0a"/>
<path d="M267.92 220.0V223.0M267.92 235.0V248.0" stroke="#111" stroke-width="1.3"/>
<rect x="266.72" y="223.0" width="2.4" height="12.0" fill="#fff" stroke="#111" stroke-width="1.3"/>
<path d="M271.54 219.0V224.0" stroke="#111" stroke-width="1.3"/>
<rect x="269.74" y="220.0" width="3.6" height="2.5" fill="#0a0a0a"/>
<path d="M275.16 211.0V234.0" stroke="#e8242e" stroke-width="1.3"/>
<rect x="273.46" y="217.5" width="3.4" height="15.5" fill="#ea1f2b"/>
<path d="M278.78 208.0V210.0M278.78 230.0V239.0" stroke="#111" stroke-width="1.3"/>
<rect x="277.58" y="210.0" width="2.4" height="20.0" fill="#fff" stroke="#111" stroke-width="1.3"/>
<path d="M282.40 207.0V212.0" stroke="#111" stroke-width="1.3"/>
<rect x="280.60" y="208.0" width="3.6" height="3.0" fill="#0a0a0a"/>
<path d="M286.02 209.0V222.0" stroke="#e8242e" stroke-width="1.3"/>
<rect x="284.32" y="212.0" width="3.4" height="3.0" fill="#ea1f2b"/>
<path d="M289.64 216.0V230.0" stroke="#e8242e" stroke-width="1.3"/>
<rect x="287.94" y="217.5" width="3.4" height="4.5" fill="#ea1f2b"/>
<path d="M293.26 208.0V211.0M293.26 217.5V222.0" stroke="#111" stroke-width="1.3"/>
<rect x="292.06" y="211.0" width="2.4" height="6.5" fill="#fff" stroke="#111" stroke-width="1.3"/>
<path d="M296.88 205.0V206.0M296.88 211.0V213.0" stroke="#111" stroke-width="1.3"/>
<rect x="295.68" y="206.0" width="2.4" height="5.0" fill="#fff" stroke="#111" stroke-width="1.3"/>
<path d="M300.50 207.0V222.0" stroke="#e8242e" stroke-width="1.3"/>
<rect x="298.80" y="212.0" width="3.4" height="5.0" fill="#ea1f2b"/>
<path d="M304.12 196.0V220.0" stroke="#e8242e" stroke-width="1.3"/>
<rect x="302.42" y="208.0" width="3.4" height="5.0" fill="#ea1f2b"/>
<path d="M307.74 202.0V222.5" stroke="#e8242e" stroke-width="1.3"/>
<rect x="306.04" y="205.0" width="3.4" height="17.0" fill="#ea1f2b"/>
<path d="M311.36 197.0V198.0M311.36 217.5V218.0" stroke="#111" stroke-width="1.3"/>
<rect x="310.16" y="198.0" width="2.4" height="19.5" fill="#fff" stroke="#111" stroke-width="1.3"/>
<path d="M314.98 199.0V211.0" stroke="#e8242e" stroke-width="1.3"/>
<rect x="313.28" y="200.0" width="3.4" height="10.0" fill="#ea1f2b"/>
<path d="M318.60 199.0V203.0" stroke="#111" stroke-width="1.3"/>
<rect x="316.80" y="200.0" width="3.6" height="2.0" fill="#0a0a0a"/>
<path d="M322.22 195.0V196.0M322.22 202.0V207.5" stroke="#111" stroke-width="1.3"/>
<rect x="321.02" y="196.0" width="2.4" height="6.0" fill="#fff" stroke="#111" stroke-width="1.3"/>
<path d="M325.84 190.0V192.0M325.84 197.0V198.0" stroke="#111" stroke-width="1.3"/>
<rect x="324.64" y="192.0" width="2.4" height="5.0" fill="#fff" stroke="#111" stroke-width="1.3"/>
<path d="M329.46 184.0V200.0" stroke="#e8242e" stroke-width="1.3"/>
<rect x="327.76" y="187.0" width="3.4" height="9.0" fill="#ea1f2b"/>
<path d="M333.08 183.0V202.0" stroke="#111" stroke-width="1.3"/>
<rect x="331.28" y="192.5" width="3.6" height="3.5" fill="#0a0a0a"/>
<path d="M336.70 180.0V192.0M336.70 197.0V199.0" stroke="#111" stroke-width="1.3"/>
<rect x="335.50" y="192.0" width="2.4" height="5.0" fill="#fff" stroke="#111" stroke-width="1.3"/>
<path d="M340.32 178.0V182.5M340.32 192.0V193.0" stroke="#111" stroke-width="1.3"/>
<rect x="339.12" y="182.5" width="2.4" height="9.5" fill="#fff" stroke="#111" stroke-width="1.3"/>
<path d="M343.94 181.0V183.0M343.94 190.0V191.0" stroke="#111" stroke-width="1.3"/>
<rect x="342.74" y="183.0" width="2.4" height="7.0" fill="#fff" stroke="#111" stroke-width="1.3"/>
<path d="M347.56 173.0V182.0" stroke="#111" stroke-width="1.3"/>
<rect x="345.76" y="174.0" width="3.6" height="3.0" fill="#0a0a0a"/>
<path d="M351.18 165.0V171.0M351.18 177.5V178.0" stroke="#111" stroke-width="1.3"/>
<rect x="349.98" y="171.0" width="2.4" height="6.5" fill="#fff" stroke="#111" stroke-width="1.3"/>
<path d="M354.80 162.0V187.0" stroke="#e8242e" stroke-width="1.3"/>
<rect x="353.10" y="171.0" width="3.4" height="14.0" fill="#ea1f2b"/>
<path d="M358.42 181.0V197.0" stroke="#e8242e" stroke-width="1.3"/>
<rect x="356.72" y="182.0" width="3.4" height="12.0" fill="#ea1f2b"/>
<path d="M362.04 187.5V201.0" stroke="#e8242e" stroke-width="1.3"/>
<rect x="360.34" y="192.5" width="3.4" height="4.5" fill="#ea1f2b"/>
<path d="M365.66 185.0V187.0M365.66 197.0V199.0" stroke="#111" stroke-width="1.3"/>
<rect x="364.46" y="187.0" width="2.4" height="10.0" fill="#fff" stroke="#111" stroke-width="1.3"/>
<path d="M369.28 177.0V178.0M369.28 187.0V191.0" stroke="#111" stroke-width="1.3"/>
<rect x="368.08" y="178.0" width="2.4" height="9.0" fill="#fff" stroke="#111" stroke-width="1.3"/>
<path d="M372.90 178.0V190.0" stroke="#e8242e" stroke-width="1.3"/>
<rect x="371.20" y="180.0" width="3.4" height="5.0" fill="#ea1f2b"/>
<path d="M376.52 174.0V193.0" stroke="#e8242e" stroke-width="1.3"/>
<rect x="374.82" y="176.0" width="3.4" height="7.0" fill="#ea1f2b"/>
<path d="M380.14 172.5V186.0" stroke="#e8242e" stroke-width="1.3"/>
<rect x="378.44" y="180.0" width="3.4" height="4.0" fill="#ea1f2b"/>
<path d="M383.76 181.0V193.0" stroke="#e8242e" stroke-width="1.3"/>
<rect x="382.06" y="186.0" width="3.4" height="6.5" fill="#ea1f2b"/>
<path d="M387.38 186.0V192.5" stroke="#111" stroke-width="1.3"/>
<rect x="385.58" y="187.0" width="3.6" height="2.0" fill="#0a0a0a"/>
<path d="M391.00 176.0V178.0M391.00 187.0V198.0" stroke="#111" stroke-width="1.3"/>
<rect x="389.80" y="178.0" width="2.4" height="9.0" fill="#fff" stroke="#111" stroke-width="1.3"/>
<path d="M394.62 159.0V162.0M394.62 173.0V175.0" stroke="#111" stroke-width="1.3"/>
<rect x="393.42" y="162.0" width="2.4" height="11.0" fill="#fff" stroke="#111" stroke-width="1.3"/>
<path d="M398.24 151.0V152.0M398.24 162.5V163.0" stroke="#111" stroke-width="1.3"/>
<rect x="397.04" y="152.0" width="2.4" height="10.5" fill="#fff" stroke="#111" stroke-width="1.3"/>
<path d="M401.86 146.0V165.0" stroke="#e8242e" stroke-width="1.3"/>
<rect x="400.16" y="152.0" width="3.4" height="11.0" fill="#ea1f2b"/>
<path d="M405.48 157.0V169.0" stroke="#e8242e" stroke-width="1.3"/>
<rect x="403.78" y="158.0" width="3.4" height="4.5" fill="#ea1f2b"/>
<path d="M409.10 155.0V180.0" stroke="#e8242e" stroke-width="1.3"/>
<rect x="407.40" y="157.5" width="3.4" height="15.5" fill="#ea1f2b"/>
<path d="M412.72 163.0V166.0M412.72 172.0V175.0" stroke="#111" stroke-width="1.3"/>
<rect x="411.52" y="166.0" width="2.4" height="6.0" fill="#fff" stroke="#111" stroke-width="1.3"/>
<path d="M416.34 166.0V188.0" stroke="#e8242e" stroke-width="1.3"/>
<rect x="414.64" y="167.5" width="3.4" height="14.5" fill="#ea1f2b"/>
<path d="M419.96 125.0V178.0" stroke="#111" stroke-width="1.3"/>
<rect x="418.16" y="158.0" width="3.6" height="14.0" fill="#0a0a0a"/>
<path d="M423.58 154.0V185.0" stroke="#111" stroke-width="1.3"/>
<rect x="422.48" y="156.0" width="2.2" height="14.0" fill="#0a0a0a"/>
<path d="M427.20 155.0V167.5" stroke="#111" stroke-width="1.3"/>
<rect x="425.40" y="157.5" width="3.6" height="1.5" fill="#0a0a0a"/>
<path d="M430.82 149.0V150.0M430.82 158.0V166.0" stroke="#111" stroke-width="1.3"/>
<rect x="429.62" y="150.0" width="2.4" height="8.0" fill="#fff" stroke="#111" stroke-width="1.3"/>
<path d="M434.44 148.0V175.0" stroke="#e8242e" stroke-width="1.3"/>
<rect x="432.74" y="153.0" width="3.4" height="18.0" fill="#ea1f2b"/>
<path d="M438.06 157.0V158.0M438.06 170.0V175.0" stroke="#111" stroke-width="1.3"/>
<rect x="436.86" y="158.0" width="2.4" height="12.0" fill="#fff" stroke="#111" stroke-width="1.3"/>
<path d="M441.68 146.5V147.5M441.68 158.0V159.0" stroke="#111" stroke-width="1.3"/>
<rect x="440.48" y="147.5" width="2.4" height="10.5" fill="#fff" stroke="#111" stroke-width="1.3"/>
<path d="M445.30 140.0V146.0M445.30 148.0V149.0" stroke="#111" stroke-width="1.3"/>
<rect x="444.10" y="146.0" width="2.4" height="2.0" fill="#fff" stroke="#111" stroke-width="1.3"/>
<path d="M448.92 142.5V154.0" stroke="#e8242e" stroke-width="1.3"/>
<rect x="447.22" y="147.0" width="3.4" height="4.0" fill="#ea1f2b"/>
<path d="M452.54 147.0V157.5" stroke="#e8242e" stroke-width="1.3"/>
<rect x="450.84" y="148.0" width="3.4" height="3.0" fill="#ea1f2b"/>
<path d="M456.16 142.5V155.0" stroke="#111" stroke-width="1.3"/>
<rect x="454.36" y="147.5" width="3.6" height="2.5" fill="#0a0a0a"/>
<path d="M459.78 144.0V163.0" stroke="#e8242e" stroke-width="1.3"/>
<rect x="458.08" y="147.5" width="3.4" height="15.0" fill="#ea1f2b"/>
<path d="M463.40 171.0V211.0" stroke="#e8242e" stroke-width="1.3"/>
<rect x="461.70" y="172.0" width="3.4" height="38.0" fill="#ea1f2b"/>
<path d="M467.02 205.0V233.0" stroke="#e8242e" stroke-width="1.3"/>
<rect x="465.32" y="206.0" width="3.4" height="17.0" fill="#ea1f2b"/>
<path d="M470.64 211.0V223.0" stroke="#111" stroke-width="1.3"/>
<rect x="468.84" y="212.5" width="3.6" height="9.5" fill="#0a0a0a"/>
<path d="M474.26 205.0V210.0M474.26 222.0V223.0" stroke="#111" stroke-width="1.3"/>
<rect x="473.06" y="210.0" width="2.4" height="12.0" fill="#fff" stroke="#111" stroke-width="1.3"/>
<path d="M477.88 195.0V210.0" stroke="#111" stroke-width="1.3"/>
<rect x="476.08" y="199.0" width="3.6" height="3.0" fill="#0a0a0a"/>
<path d="M481.50 193.0V228.0" stroke="#e8242e" stroke-width="1.3"/>
<rect x="479.80" y="203.0" width="3.4" height="14.0" fill="#ea1f2b"/>
<path d="M485.12 203.0V218.0" stroke="#e8242e" stroke-width="1.3"/>
<rect x="483.42" y="204.0" width="3.4" height="13.0" fill="#ea1f2b"/>
<path d="M488.74 202.0V210.0M488.74 214.0V219.0" stroke="#111" stroke-width="1.3"/>
<rect x="487.54" y="210.0" width="2.4" height="4.0" fill="#fff" stroke="#111" stroke-width="1.3"/>
<path d="M492.36 208.0V222.0" stroke="#e8242e" stroke-width="1.3"/>
<rect x="490.66" y="210.0" width="3.4" height="10.0" fill="#ea1f2b"/>
<path d="M495.98 214.0V220.0" stroke="#e8242e" stroke-width="1.3"/>
<rect x="494.28" y="215.0" width="3.4" height="3.0" fill="#ea1f2b"/>
<path d="M499.60 205.0V209.0M499.60 217.0V222.0" stroke="#111" stroke-width="1.3"/>
<rect x="498.40" y="209.0" width="2.4" height="8.0" fill="#fff" stroke="#111" stroke-width="1.3"/>
<path d="M503.22 209.0V219.0" stroke="#e8242e" stroke-width="1.3"/>
<rect x="501.52" y="210.0" width="3.4" height="4.5" fill="#ea1f2b"/>
<path d="M506.84 194.0V195.0M506.84 211.5V212.5" stroke="#111" stroke-width="1.3"/>
<rect x="505.64" y="195.0" width="2.4" height="16.5" fill="#fff" stroke="#111" stroke-width="1.3"/>
<path d="M510.46 184.0V185.0M510.46 190.6V195.0" stroke="#111" stroke-width="1.3"/>
<rect x="509.26" y="185.0" width="2.4" height="5.6" fill="#fff" stroke="#111" stroke-width="1.3"/>
<path d="M514.08 172.0V173.0M514.08 192.0V195.0" stroke="#111" stroke-width="1.3"/>
<rect x="512.88" y="173.0" width="2.4" height="19.0" fill="#fff" stroke="#111" stroke-width="1.3"/>
<path d="M517.70 162.5V163.5M517.70 170.0V177.0" stroke="#111" stroke-width="1.3"/>
<rect x="516.50" y="163.5" width="2.4" height="6.5" fill="#fff" stroke="#111" stroke-width="1.3"/>
<path d="M521.32 158.0V159.0M521.32 163.5V165.0" stroke="#111" stroke-width="1.3"/>
<rect x="520.12" y="159.0" width="2.4" height="4.5" fill="#fff" stroke="#111" stroke-width="1.3"/>
<path d="M524.94 159.0V183.0" stroke="#e8242e" stroke-width="1.3"/>
<rect x="523.24" y="160.0" width="3.4" height="22.0" fill="#ea1f2b"/>
<path d="M528.56 174.0V185.0" stroke="#111" stroke-width="1.3"/>
<rect x="526.76" y="175.0" width="3.6" height="9.0" fill="#0a0a0a"/>
<path d="M532.18 174.0V197.0" stroke="#e8242e" stroke-width="1.3"/>
<rect x="530.48" y="175.0" width="3.4" height="11.5" fill="#ea1f2b"/>
<path d="M535.80 192.0V207.0" stroke="#e8242e" stroke-width="1.3"/>
<rect x="534.10" y="198.0" width="3.4" height="7.0" fill="#ea1f2b"/>
<path d="M539.42 208.0V231.0" stroke="#e8242e" stroke-width="1.3"/>
<rect x="537.72" y="209.0" width="3.4" height="12.0" fill="#ea1f2b"/>
<path d="M543.04 204.0V205.0M543.04 219.0V223.0" stroke="#111" stroke-width="1.3"/>
<rect x="541.84" y="205.0" width="2.4" height="14.0" fill="#fff" stroke="#111" stroke-width="1.3"/>
<path d="M546.66 192.0V193.0M546.66 206.0V207.0" stroke="#111" stroke-width="1.3"/>
<rect x="545.46" y="193.0" width="2.4" height="13.0" fill="#fff" stroke="#111" stroke-width="1.3"/>
<path d="M550.28 187.5V199.0" stroke="#e8242e" stroke-width="1.3"/>
<rect x="548.58" y="192.0" width="3.4" height="2.0" fill="#ea1f2b"/>
<path d="M553.90 197.0V217.0" stroke="#e8242e" stroke-width="1.3"/>
<rect x="552.20" y="203.0" width="3.4" height="9.5" fill="#ea1f2b"/>
<path d="M557.52 185.0V188.5M557.52 204.0V205.0" stroke="#111" stroke-width="1.3"/>
<rect x="556.32" y="188.5" width="2.4" height="15.5" fill="#fff" stroke="#111" stroke-width="1.3"/>
<path d="M561.14 184.0V187.5M561.14 190.6V199.0" stroke="#111" stroke-width="1.3"/>
<rect x="559.94" y="187.5" width="2.4" height="3.1" fill="#fff" stroke="#111" stroke-width="1.3"/>
<path d="M564.76 174.0V179.0M564.76 187.5V188.5" stroke="#111" stroke-width="1.3"/>
<rect x="563.56" y="179.0" width="2.4" height="8.5" fill="#fff" stroke="#111" stroke-width="1.3"/>
<path d="M568.38 172.0V194.0" stroke="#111" stroke-width="1.3"/>
<rect x="566.58" y="175.0" width="3.6" height="3.0" fill="#0a0a0a"/>
<path d="M572.00 179.0V192.0" stroke="#e8242e" stroke-width="1.3"/>
<rect x="570.30" y="180.0" width="3.4" height="10.6" fill="#ea1f2b"/>
<path d="M575.62 184.0V198.0" stroke="#e8242e" stroke-width="1.3"/>
<rect x="573.92" y="185.0" width="3.4" height="12.0" fill="#ea1f2b"/>
<path d="M579.24 189.0V203.0" stroke="#e8242e" stroke-width="1.3"/>
<rect x="577.54" y="190.6" width="3.4" height="11.4" fill="#ea1f2b"/>
<path d="M582.86 196.0V221.0" stroke="#e8242e" stroke-width="1.3"/>
<rect x="581.16" y="197.0" width="3.4" height="22.0" fill="#ea1f2b"/>
<path d="M586.48 216.0V226.0" stroke="#e8242e" stroke-width="1.3"/>
<rect x="584.78" y="217.0" width="3.4" height="2.0" fill="#ea1f2b"/>
<path d="M590.10 195.0V197.0M590.10 212.5V215.6" stroke="#111" stroke-width="1.3"/>
<rect x="588.90" y="197.0" width="2.4" height="15.5" fill="#fff" stroke="#111" stroke-width="1.3"/>
<path d="M593.72 193.0V194.0M593.72 208.0V213.5" stroke="#111" stroke-width="1.3"/>
<rect x="592.52" y="194.0" width="2.4" height="14.0" fill="#fff" stroke="#111" stroke-width="1.3"/>
<path d="M597.34 194.0V209.0" stroke="#e8242e" stroke-width="1.3"/>
<rect x="595.64" y="195.0" width="3.4" height="9.0" fill="#ea1f2b"/>
<path d="M600.96 189.6V194.0M600.96 205.0V209.0" stroke="#111" stroke-width="1.3"/>
<rect x="599.76" y="194.0" width="2.4" height="11.0" fill="#fff" stroke="#111" stroke-width="1.3"/>
<path d="M604.58 191.7V207.0" stroke="#e8242e" stroke-width="1.3"/>
<rect x="602.88" y="197.0" width="3.4" height="7.0" fill="#ea1f2b"/>
<path d="M608.20 195.0V211.5" stroke="#e8242e" stroke-width="1.3"/>
<rect x="606.50" y="199.0" width="3.4" height="4.0" fill="#ea1f2b"/>
<path d="M611.82 183.0V187.5M611.82 200.0V201.0" stroke="#111" stroke-width="1.3"/>
<rect x="610.62" y="187.5" width="2.4" height="12.5" fill="#fff" stroke="#111" stroke-width="1.3"/>
<path d="M615.44 180.0V210.0" stroke="#e8242e" stroke-width="1.3"/>
<rect x="613.74" y="181.0" width="3.4" height="27.0" fill="#ea1f2b"/>
<path d="M619.06 184.0V204.0" stroke="#111" stroke-width="1.3"/>
<rect x="617.26" y="185.0" width="3.6" height="16.0" fill="#0a0a0a"/>
<path d="M622.68 205.0V232.0" stroke="#e8242e" stroke-width="1.3"/>
<rect x="620.98" y="210.0" width="3.4" height="13.0" fill="#ea1f2b"/>
<path d="M626.30 203.0V205.0M626.30 222.0V223.0" stroke="#111" stroke-width="1.3"/>
<rect x="625.10" y="205.0" width="2.4" height="17.0" fill="#fff" stroke="#111" stroke-width="1.3"/>
<path d="M629.92 199.0V200.0M629.92 208.0V216.7" stroke="#111" stroke-width="1.3"/>
<rect x="628.72" y="200.0" width="2.4" height="8.0" fill="#fff" stroke="#111" stroke-width="1.3"/>
<path d="M633.54 186.0V187.5M633.54 199.0V200.0" stroke="#111" stroke-width="1.3"/>
<rect x="632.34" y="187.5" width="2.4" height="11.5" fill="#fff" stroke="#111" stroke-width="1.3"/>
<path d="M637.16 180.0V184.0M637.16 195.0V196.0" stroke="#111" stroke-width="1.3"/>
<rect x="635.96" y="184.0" width="2.4" height="11.0" fill="#fff" stroke="#111" stroke-width="1.3"/>
<path d="M640.78 174.0V198.0" stroke="#e8242e" stroke-width="1.3"/>
<rect x="639.08" y="175.0" width="3.4" height="22.0" fill="#ea1f2b"/>
<path d="M644.40 198.0V223.0" stroke="#e8242e" stroke-width="1.3"/>
<rect x="642.70" y="201.0" width="3.4" height="5.0" fill="#ea1f2b"/>
<path d="M648.02 202.0V220.0" stroke="#e8242e" stroke-width="1.3"/>
<rect x="646.32" y="204.0" width="3.4" height="15.0" fill="#ea1f2b"/>
<path d="M651.64 192.7V204.0" stroke="#111" stroke-width="1.3"/>
<rect x="649.84" y="196.0" width="3.6" height="4.0" fill="#0a0a0a"/>
<path d="M655.26 194.0V216.7" stroke="#e8242e" stroke-width="1.3"/>
<rect x="653.56" y="195.0" width="3.4" height="19.5" fill="#ea1f2b"/>
<path d="M658.88 212.5V221.0" stroke="#e8242e" stroke-width="1.3"/>
<rect x="657.18" y="214.0" width="3.4" height="3.0" fill="#ea1f2b"/>
<path d="M662.50 173.0V190.6M662.50 210.0V216.7" stroke="#111" stroke-width="1.3"/>
<rect x="661.30" y="190.6" width="2.4" height="19.4" fill="#fff" stroke="#111" stroke-width="1.3"/>
<path d="M666.12 188.0V189.6M666.12 192.7V196.0" stroke="#111" stroke-width="1.3"/>
<rect x="664.92" y="189.6" width="2.4" height="3.1" fill="#fff" stroke="#111" stroke-width="1.3"/>
<path d="M669.74 181.0V190.6" stroke="#111" stroke-width="1.3"/>
<rect x="667.94" y="184.0" width="3.6" height="3.5" fill="#0a0a0a"/>
<path d="M673.36 173.0V192.0" stroke="#111" stroke-width="1.3"/>
<rect x="671.56" y="184.0" width="3.6" height="3.5" fill="#0a0a0a"/>
<path d="M676.98 184.0V197.0" stroke="#e8242e" stroke-width="1.3"/>
<rect x="675.28" y="185.0" width="3.4" height="11.0" fill="#ea1f2b"/>
<path d="M680.60 196.0V215.0" stroke="#e8242e" stroke-width="1.3"/>
<rect x="678.90" y="197.5" width="3.4" height="4.5" fill="#ea1f2b"/>
<path d="M684.22 195.0V196.0M684.22 200.0V206.0" stroke="#111" stroke-width="1.3"/>
<rect x="683.02" y="196.0" width="2.4" height="4.0" fill="#fff" stroke="#111" stroke-width="1.3"/>
<path d="M687.84 186.7V197.5" stroke="#111" stroke-width="1.3"/>
<rect x="686.04" y="187.5" width="3.6" height="8.5" fill="#0a0a0a"/>
<path d="M691.46 188.0V204.0" stroke="#e8242e" stroke-width="1.3"/>
<rect x="689.76" y="192.5" width="3.4" height="10.5" fill="#ea1f2b"/>
<path d="M695.08 192.5V213.0" stroke="#e8242e" stroke-width="1.3"/>
<rect x="693.38" y="198.0" width="3.4" height="5.0" fill="#ea1f2b"/>
<path d="M698.70 190.0V201.0" stroke="#111" stroke-width="1.3"/>
<rect x="696.90" y="196.0" width="3.6" height="2.0" fill="#0a0a0a"/>
<path d="M702.32 192.5V194.0M702.32 200.0V206.0" stroke="#111" stroke-width="1.3"/>
<rect x="701.12" y="194.0" width="2.4" height="6.0" fill="#fff" stroke="#111" stroke-width="1.3"/>
<path d="M705.94 180.0V189.0M705.94 194.0V196.0" stroke="#111" stroke-width="1.3"/>
<rect x="704.74" y="189.0" width="2.4" height="5.0" fill="#fff" stroke="#111" stroke-width="1.3"/>
<path d="M28.5 224H712.0" stroke="#2942f2" stroke-width="2.8"/>
<path d="M407.7 132.5L711.5 186.7" stroke="#2942f2" stroke-width="2.8" stroke-linecap="round"/>
<path d="M303.7 32L706.5 60.7" stroke="#2942f2" stroke-width="2.8" stroke-linecap="round"/>
<rect x="28.5" y="106" width="171" height="89.5" fill="#777" opacity="0.55" filter="url(#sh)"/>
<rect x="26.0" y="103.8" width="171.3" height="89" fill="#fff" stroke="#9a9a9a" stroke-width="1.4"/>
<text x="29.2" y="122.6" font-family="Liberation Sans, sans-serif" font-weight="bold" font-size="17.85" fill="#1b2efc" stroke="#1b2efc" stroke-width="0.45" stroke-linejoin="round">CMC is a textbook</text>
<text x="29.2" y="143.6" font-family="Liberation Sans, sans-serif" font-weight="bold" font-size="17.85" fill="#1b2efc" stroke="#1b2efc" stroke-width="0.45" stroke-linejoin="round">descending</text>
<text x="29.2" y="164.6" font-family="Liberation Sans, sans-serif" font-weight="bold" font-size="17.85" fill="#1b2efc" stroke="#1b2efc" stroke-width="0.45" stroke-linejoin="round">triangle trade to</text>
<text x="29.2" y="185.6" font-family="Liberation Sans, sans-serif" font-weight="bold" font-size="17.85" fill="#1b2efc" stroke="#1b2efc" stroke-width="0.45" stroke-linejoin="round">watch this week.</text>
<text x="428.2" y="33.5" font-family="Liberation Sans, sans-serif" font-weight="bold" font-size="17.85" fill="#1b2efc" stroke="#1b2efc" stroke-width="0.45" stroke-linejoin="round">Lower highs in RSI</text>
<text x="520.4" y="124.9" font-family="Liberation Sans, sans-serif" font-weight="bold" font-size="17.7" fill="#1b2efc" stroke="#1b2efc" stroke-width="0.45" stroke-linejoin="round">Downtrending</text>
<text x="520.4" y="145.2" font-family="Liberation Sans, sans-serif" font-weight="bold" font-size="17.7" fill="#1b2efc" stroke="#1b2efc" stroke-width="0.45" stroke-linejoin="round">Resistance</text>
<text x="507.7" y="251.2" font-family="Liberation Sans, sans-serif" font-weight="bold" font-size="17.85" fill="#1b2efc" stroke="#1b2efc" stroke-width="0.45" stroke-linejoin="round">Support at $18.50</text>
<text x="28.5" y="6.0" font-family="Liberation Sans, sans-serif" font-size="11.4" fill="#222">1-May-2014</text>
<text x="214.5" y="6.3" font-family="Liberation Sans, sans-serif" font-size="12.3" fill="#222" font-weight="bold">Open</text>
<text x="251.2" y="6.3" font-family="Liberation Sans, sans-serif" font-size="11.4" fill="#222">19.22</text>
<text x="286.5" y="6.3" font-family="Liberation Sans, sans-serif" font-size="12.3" fill="#222" font-weight="bold">High</text>
<text x="318.2" y="6.3" font-family="Liberation Sans, sans-serif" font-size="11.4" fill="#222">19.50</text>
<text x="353.0" y="6.3" font-family="Liberation Sans, sans-serif" font-size="12.3" fill="#222" font-weight="bold">Low</text>
<text x="384.0" y="6.3" font-family="Liberation Sans, sans-serif" font-size="11.4" fill="#222">19.04</text>
<text x="421.5" y="6.3" font-family="Liberation Sans, sans-serif" font-size="12.3" fill="#222" font-weight="bold">Close</text>
<text x="460.2" y="6.3" font-family="Liberation Sans, sans-serif" font-size="11.4" fill="#222">19.35</text>
<text x="498.0" y="6.3" font-family="Liberation Sans, sans-serif" font-size="12.3" fill="#222" font-weight="bold">Volume</text>
<text x="547.7" y="6.3" font-family="Liberation Sans, sans-serif" font-size="11.4" fill="#222">902.4K</text>
<text x="592.0" y="6.3" font-family="Liberation Sans, sans-serif" font-size="12.3" fill="#222" font-weight="bold">Chg</text>
<text x="621.0" y="6.3" font-family="Liberation Sans, sans-serif" font-size="11.4" fill="#222">+0.15 (+0.78%)</text>
<path d="M704 6.2L708 1.2L712 6.2Z" fill="#2e8b2e"/>
<path d="M30.5 20.5L34 13.5L36 17L37.5 14.5L40.5 20.5Z" fill="#5f9f5f" stroke="#3d6b3d" stroke-width="0.8"/>
<text x="45" y="21.2" font-family="Liberation Mono, monospace" font-size="11.2" fill="#333">RSI(14) 54.73</text>
<text x="716.5" y="31.0" font-family="Liberation Sans, sans-serif" font-size="11.3" fill="#333">90</text>
<text x="716.5" y="49.4" font-family="Liberation Sans, sans-serif" font-size="11.3" fill="#333">70</text>
<text x="716.5" y="87.0" font-family="Liberation Sans, sans-serif" font-size="11.3" fill="#333">30</text>
<text x="716.5" y="105.2" font-family="Liberation Sans, sans-serif" font-size="11.3" fill="#333">10</text>
<text x="716.5" y="417.1" font-family="Liberation Sans, sans-serif" font-size="11.3" fill="#333">14.5</text>
<text x="716.5" y="390.7" font-family="Liberation Sans, sans-serif" font-size="11.3" fill="#333">15.0</text>
<text x="716.5" y="365.2" font-family="Liberation Sans, sans-serif" font-size="11.3" fill="#333">15.5</text>
<text x="716.5" y="340.5" font-family="Liberation Sans, sans-serif" font-size="11.3" fill="#333">16.0</text>
<text x="716.5" y="316.5" font-family="Liberation Sans, sans-serif" font-size="11.3" fill="#333">16.5</text>
<text x="716.5" y="293.3" font-family="Liberation Sans, sans-serif" font-size="11.3" fill="#333">17.0</text>
<text x="716.5" y="270.7" font-family="Liberation Sans, sans-serif" font-size="11.3" fill="#333">17.5</text>
<text x="716.5" y="248.8" font-family="Liberation Sans, sans-serif" font-size="11.3" fill="#333">18.0</text>
<text x="716.5" y="227.5" font-family="Liberation Sans, sans-serif" font-size="11.3" fill="#333">18.5</text>
<text x="716.5" y="166.9" font-family="Liberation Sans, sans-serif" font-size="11.3" fill="#333">20.0</text>
<text x="716.5" y="147.6" font-family="Liberation Sans, sans-serif" font-size="11.3" fill="#333">20.5</text>
<text x="716.5" y="128.9" font-family="Liberation Sans, sans-serif" font-size="11.3" fill="#333">21.0</text>
<text x="716.5" y="186.6" font-family="Liberation Sans, sans-serif" font-size="11.3" fill="#333">19.5</text>
<text x="716.5" y="206.8" font-family="Liberation Sans, sans-serif" font-size="11.3" fill="#333">19.0</text>
<text x="8" y="329.0" font-family="Liberation Sans, sans-serif" font-size="11.3" fill="#333">3M</text>
<text x="8" y="361.5" font-family="Liberation Sans, sans-serif" font-size="11.3" fill="#333">2M</text>
<text x="8" y="395.0" font-family="Liberation Sans, sans-serif" font-size="11.3" fill="#333">1M</text>
<text x="716.5" y="68.0" font-family="Liberation Sans, sans-serif" font-size="11.3" fill="#333">50</text>
<path d="M708.8 60.3L713.3 55.1H747.5V65.5H713.3Z" fill="#fff" stroke="#444" stroke-width="1.2" stroke-linejoin="round"/>
<text x="715.4" y="64.4" font-family="Liberation Sans, sans-serif" font-size="11.3" fill="#333">54.73</text>
<path d="M710.5 198.6L715.0 192.8H747.5V204.3H715.0Z" fill="#fff" stroke="#4848c8" stroke-width="1.2" stroke-linejoin="round"/>
<text x="716.5" y="202.7" font-family="Liberation Sans, sans-serif" font-size="11.3" fill="#555">19.08</text>
<path d="M712.0 186.7L716.5 180.8H747.0V192.6H716.5Z" fill="#fff" stroke="#222" stroke-width="1.4" stroke-linejoin="round"/>
<text x="716.2" y="190.8" font-family="Liberation Sans, sans-serif" font-size="11.6" fill="#000" font-weight="bold">19.35</text>
<path d="M710.0 245.6L714.5 239.7H747.0V251.5H714.5Z" fill="#fff" stroke="#e25a68" stroke-width="1.2" stroke-linejoin="round"/>
<text x="716.0" y="249.7" font-family="Liberation Sans, sans-serif" font-size="11.3" fill="#444">17.98</text>
<path d="M711.0 394.3L715.5 388.7H757.0V399.9H715.5Z" fill="#fff" stroke="#444" stroke-width="1.2" stroke-linejoin="round"/>
<text x="717.0" y="398.4" font-family="Liberation Sans, sans-serif" font-size="11.3" fill="#333">902425</text>
<text x="103.5" y="438" font-family="Liberation Sans, sans-serif" font-size="11.3" fill="#222" text-anchor="middle">Sep</text>
<text x="175.9" y="438" font-family="Liberation Sans, sans-serif" font-size="11.3" fill="#222" text-anchor="middle">Oct</text>
<text x="259.2" y="438" font-family="Liberation Sans, sans-serif" font-size="11.3" fill="#222" text-anchor="middle">Nov</text>
<text x="331.6" y="438" font-family="Liberation Sans, sans-serif" font-size="11.3" fill="#222" text-anchor="middle">Dec</text>
<text x="407.6" y="438" font-family="Liberation Sans, sans-serif" font-size="11.3" fill="#222" text-anchor="middle" font-weight="bold">2014</text>
<text x="483.6" y="438" font-family="Liberation Sans, sans-serif" font-size="11.3" fill="#222" text-anchor="middle">Feb</text>
<text x="552.4" y="438" font-family="Liberation Sans, sans-serif" font-size="11.3" fill="#222" text-anchor="middle">Mar</text>
<text x="628.4" y="438" font-family="Liberation Sans, sans-serif" font-size="11.3" fill="#222" text-anchor="middle">Apr</text>
<text x="703.9" y="438" font-family="Liberation Sans, sans-serif" font-size="11.3" fill="#222" text-anchor="middle">May</text>
</g>
<g opacity="0.5" filter="url(#bl)"><rect width="768" height="432" fill="#fff"/><use href="#c"/></g>
</svg>
</body></html>
